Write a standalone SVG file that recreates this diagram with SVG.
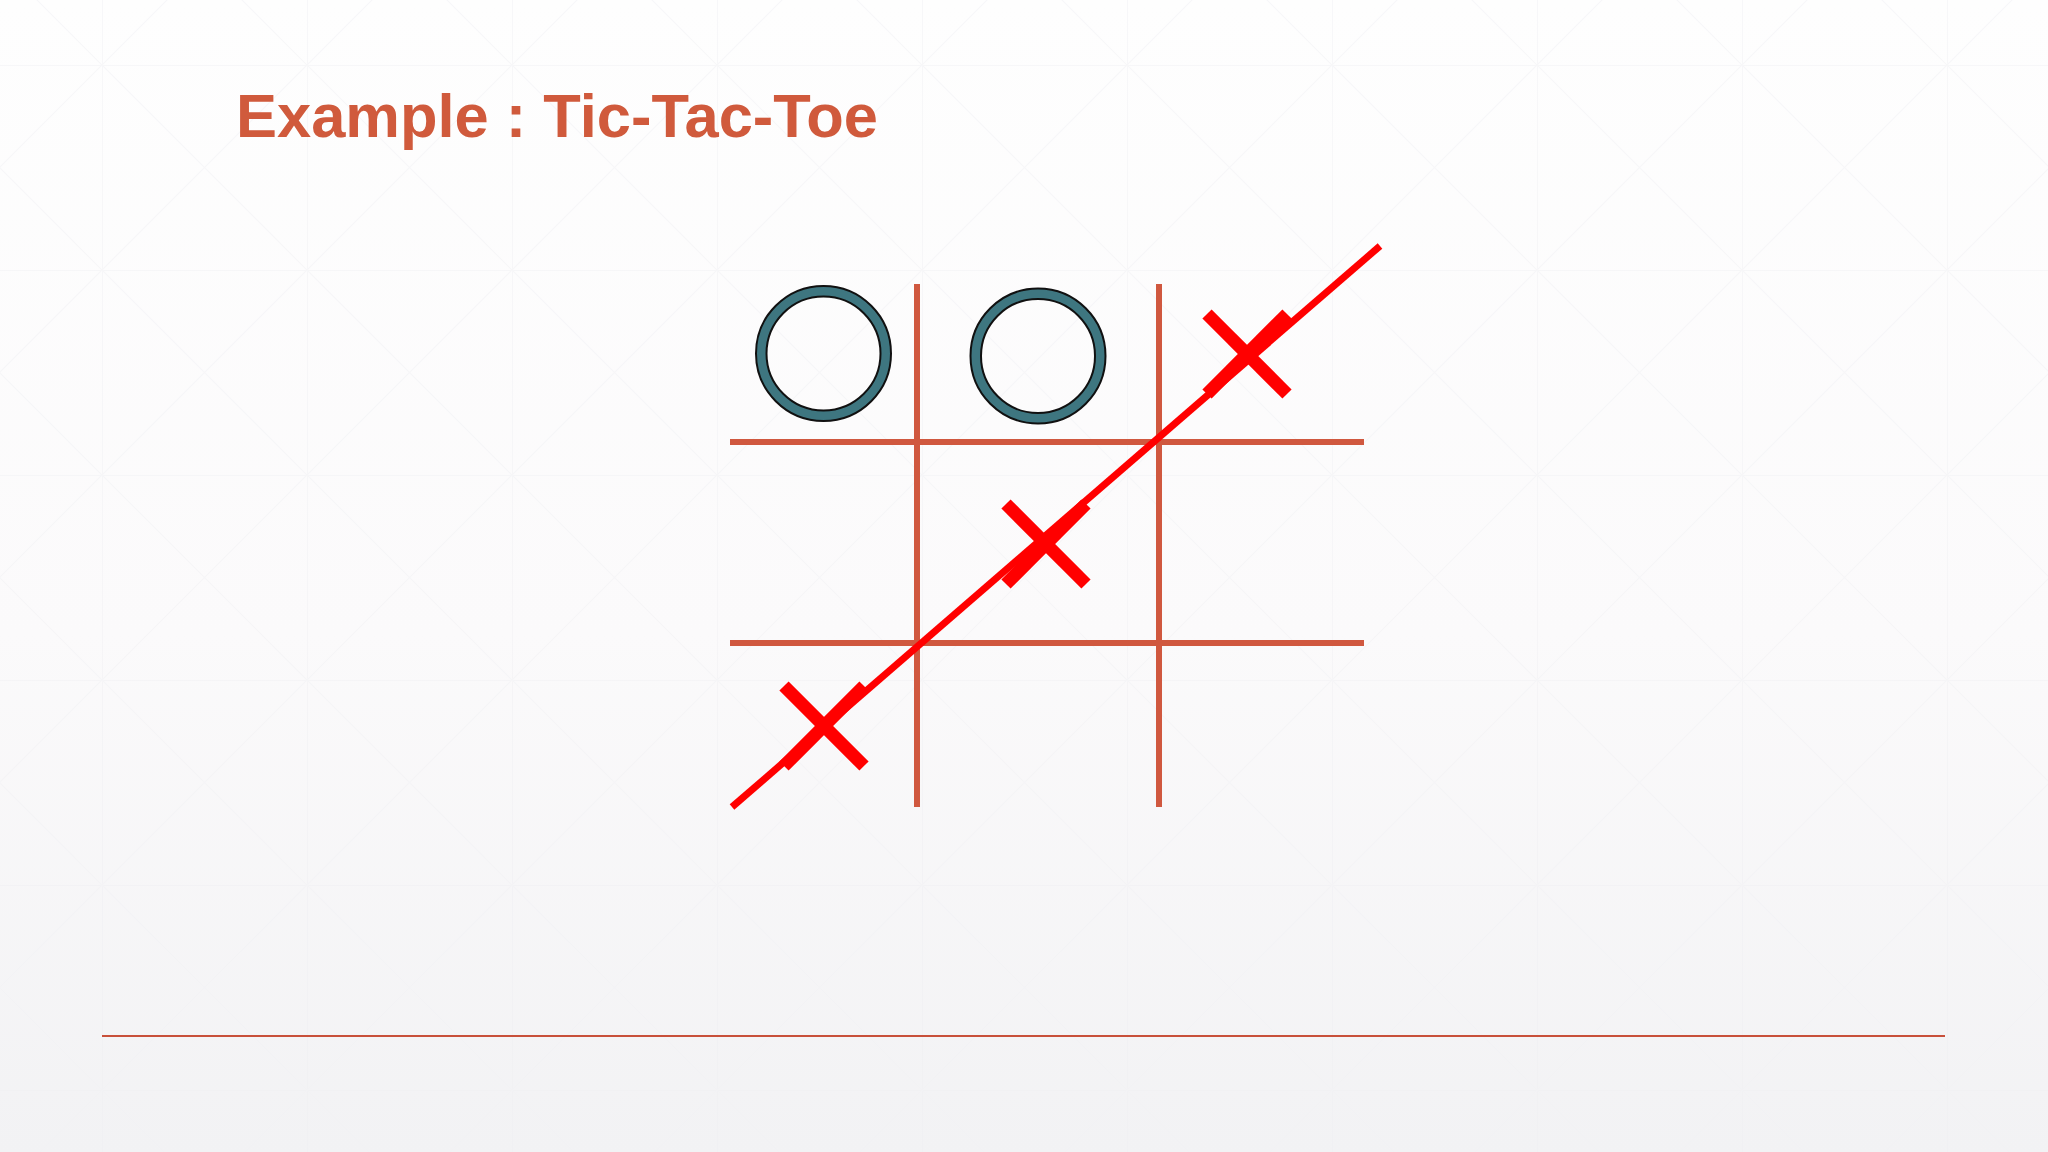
<svg xmlns="http://www.w3.org/2000/svg" width="2048" height="1152" viewBox="0 0 2048 1152">
  <defs>
    <linearGradient id="bg" x1="0" y1="0" x2="0" y2="1">
      <stop offset="0" stop-color="#fefefe"/>
      <stop offset="0.55" stop-color="#fbfafb"/>
      <stop offset="1" stop-color="#f2f2f4"/>
    </linearGradient>
    <pattern id="tile" x="102" y="65" width="205" height="205" patternUnits="userSpaceOnUse">
      <path d="M0 0 V205 M0 0 H205" stroke="#ededf1" stroke-width="1.5" fill="none"/>
      <path d="M0 0 L205 205 M205 0 L0 205" stroke="#f1f1f4" stroke-width="1.2" fill="none"/>
    </pattern>
    <style>
      .title { font-family: "Liberation Sans", Arial, sans-serif; font-weight: bold; font-size: 61.5px; fill: #D05A3C; }
      .grid { stroke: #D0583F; stroke-width: 6; fill: none; }
      .ring { fill: none; stroke: #3E7680; stroke-width: 10.5; }
      .ringedge { fill: none; stroke: #111; stroke-width: 2; }
      .xarm { stroke: #FF0000; stroke-width: 13; stroke-linecap: butt; }
      .win { stroke: #FF0000; stroke-width: 7; stroke-linecap: butt; }
      .rule { stroke: #C8503A; stroke-width: 2; }
    </style>
  </defs>

  <rect width="2048" height="1152" fill="url(#bg)"/>
  <rect width="2048" height="1152" fill="url(#tile)" opacity="0.5"/>

  <text class="title" x="236" y="137" textLength="642" lengthAdjust="spacingAndGlyphs">Example : Tic-Tac-Toe</text>

  <g id="board">
    <line class="grid" x1="917" y1="284" x2="917" y2="807"/>
    <line class="grid" x1="1159" y1="284" x2="1159" y2="807"/>
    <line class="grid" x1="730" y1="442" x2="1364" y2="442"/>
    <line class="grid" x1="730" y1="643" x2="1364" y2="643"/>
  </g>

  <g id="o1">
    <circle class="ring" cx="823.5" cy="353.5" r="62.3"/>
    <circle class="ringedge" cx="823.5" cy="353.5" r="67.5"/>
    <circle class="ringedge" cx="823.5" cy="353.5" r="57"/>
  </g>
  <g id="o2">
    <circle class="ring" cx="1038" cy="356" r="62.3"/>
    <circle class="ringedge" cx="1038" cy="356" r="67.5"/>
    <circle class="ringedge" cx="1038" cy="356" r="57"/>
  </g>

  <g id="x1">
    <line class="xarm" x1="1207" y1="314" x2="1287" y2="394"/>
    <line class="xarm" x1="1287" y1="314" x2="1207" y2="394"/>
  </g>
  <g id="x2">
    <line class="xarm" x1="1006" y1="504" x2="1086" y2="584"/>
    <line class="xarm" x1="1086" y1="504" x2="1006" y2="584"/>
  </g>
  <g id="x3">
    <line class="xarm" x1="784" y1="686" x2="864" y2="766"/>
    <line class="xarm" x1="864" y1="686" x2="784" y2="766"/>
  </g>

  <g id="connectors">
    <line class="win" x1="732" y1="807" x2="1380" y2="246"/>
  </g>

  <line class="rule" x1="102" y1="1036" x2="1945" y2="1036"/>
</svg>
